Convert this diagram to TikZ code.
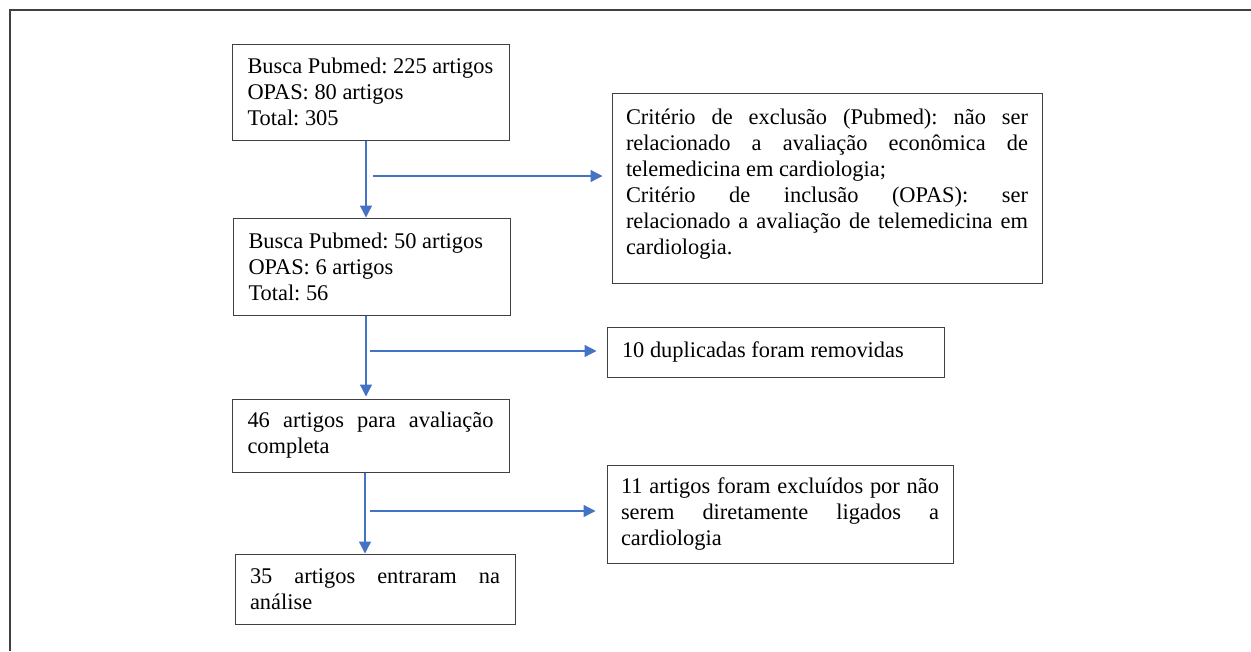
\documentclass[tikz,border=0pt]{standalone}
\usepackage{fontspec}
\setmainfont{Liberation Serif}
\usetikzlibrary{arrows.meta}
\definecolor{wordblue}{HTML}{4472C4}
\begin{document}
\frenchspacing
\begin{tikzpicture}[
        x=1pt, y=-1pt,
        box/.style = {draw=black!75, line width=1pt, rectangle, inner xsep=0pt,
                      align=justify, font=\fontsize{22.4}{26}\selectfont},
        flow/.style = {draw=wordblue, line width=1.3pt, -{Triangle[length=12pt,width=12pt]}},
        frame/.style = {draw=black!75, line width=1.5pt},
    ]
    \useasboundingbox (0,0) rectangle (1251,651);
    \draw[frame] (10,651) -- (10,10) -- (1251,10);

    \node (b1) at (370.5,92) [box, minimum width=277pt, minimum height=96pt, text width=246pt]
        {Busca Pubmed: 225 artigos\\OPAS: 80 artigos\\Total: 305};
    \node (b2) at (827,188) [box, minimum width=430pt, minimum height=190pt, text width=402pt]
        {Critério de exclusão (Pubmed): não ser\linebreak relacionado a avaliação econômica de\linebreak
         telemedicina em cardiologia;\\Critério de inclusão (OPAS): ser\linebreak
         relacionado a avaliação de telemedicina em\linebreak cardiologia.\\[-14pt]\mbox{}};
    \node (b3) at (371.5,266.5) [box, minimum width=277pt, minimum height=97pt, text width=246pt]
        {Busca Pubmed: 50 artigos\\OPAS: 6 artigos\\Total: 56};
    \node (b4) at (775.5,352) [box, minimum width=337pt, minimum height=50pt, text width=307pt]
        {10 duplicadas foram removidas};
    \node (b5) at (370.5,435.5) [box, minimum width=277pt, minimum height=73pt, text width=246pt]
        {46 artigos para avaliação\linebreak completa};
    \node (b6) at (780,514) [box, minimum width=346pt, minimum height=98pt, text width=318pt]
        {11 artigos foram excluídos por não\linebreak serem diretamente ligados a\linebreak cardiologia};
    \node (b7) at (375,589) [box, minimum width=280pt, minimum height=70pt, text width=250pt]
        {35 artigos entraram na\linebreak análise};

    \coordinate (spine) at (366,0);
    \coordinate (out1) at (373,176);
    \coordinate (out2) at (370,351);
    \coordinate (out3) at (370,511);

    \draw[flow] (b1.south -| spine) -- (b3.north -| spine);
    \draw[flow] (b3.south -| spine) -- ([yshift=2pt]b5.north -| spine);
    \draw[flow] ([xshift=-1pt]b5.south -| spine) -- ([xshift=-1pt]b7.north -| spine);

    \draw[flow, shorten >=9pt] (out1) -- (out1 -| b2.west);
    \draw[flow, shorten >=10pt] (out2) -- (out2 -| b4.west);
    \draw[flow, shorten >=11pt] (out3) -- (out3 -| b6.west);
\end{tikzpicture}
\end{document}
